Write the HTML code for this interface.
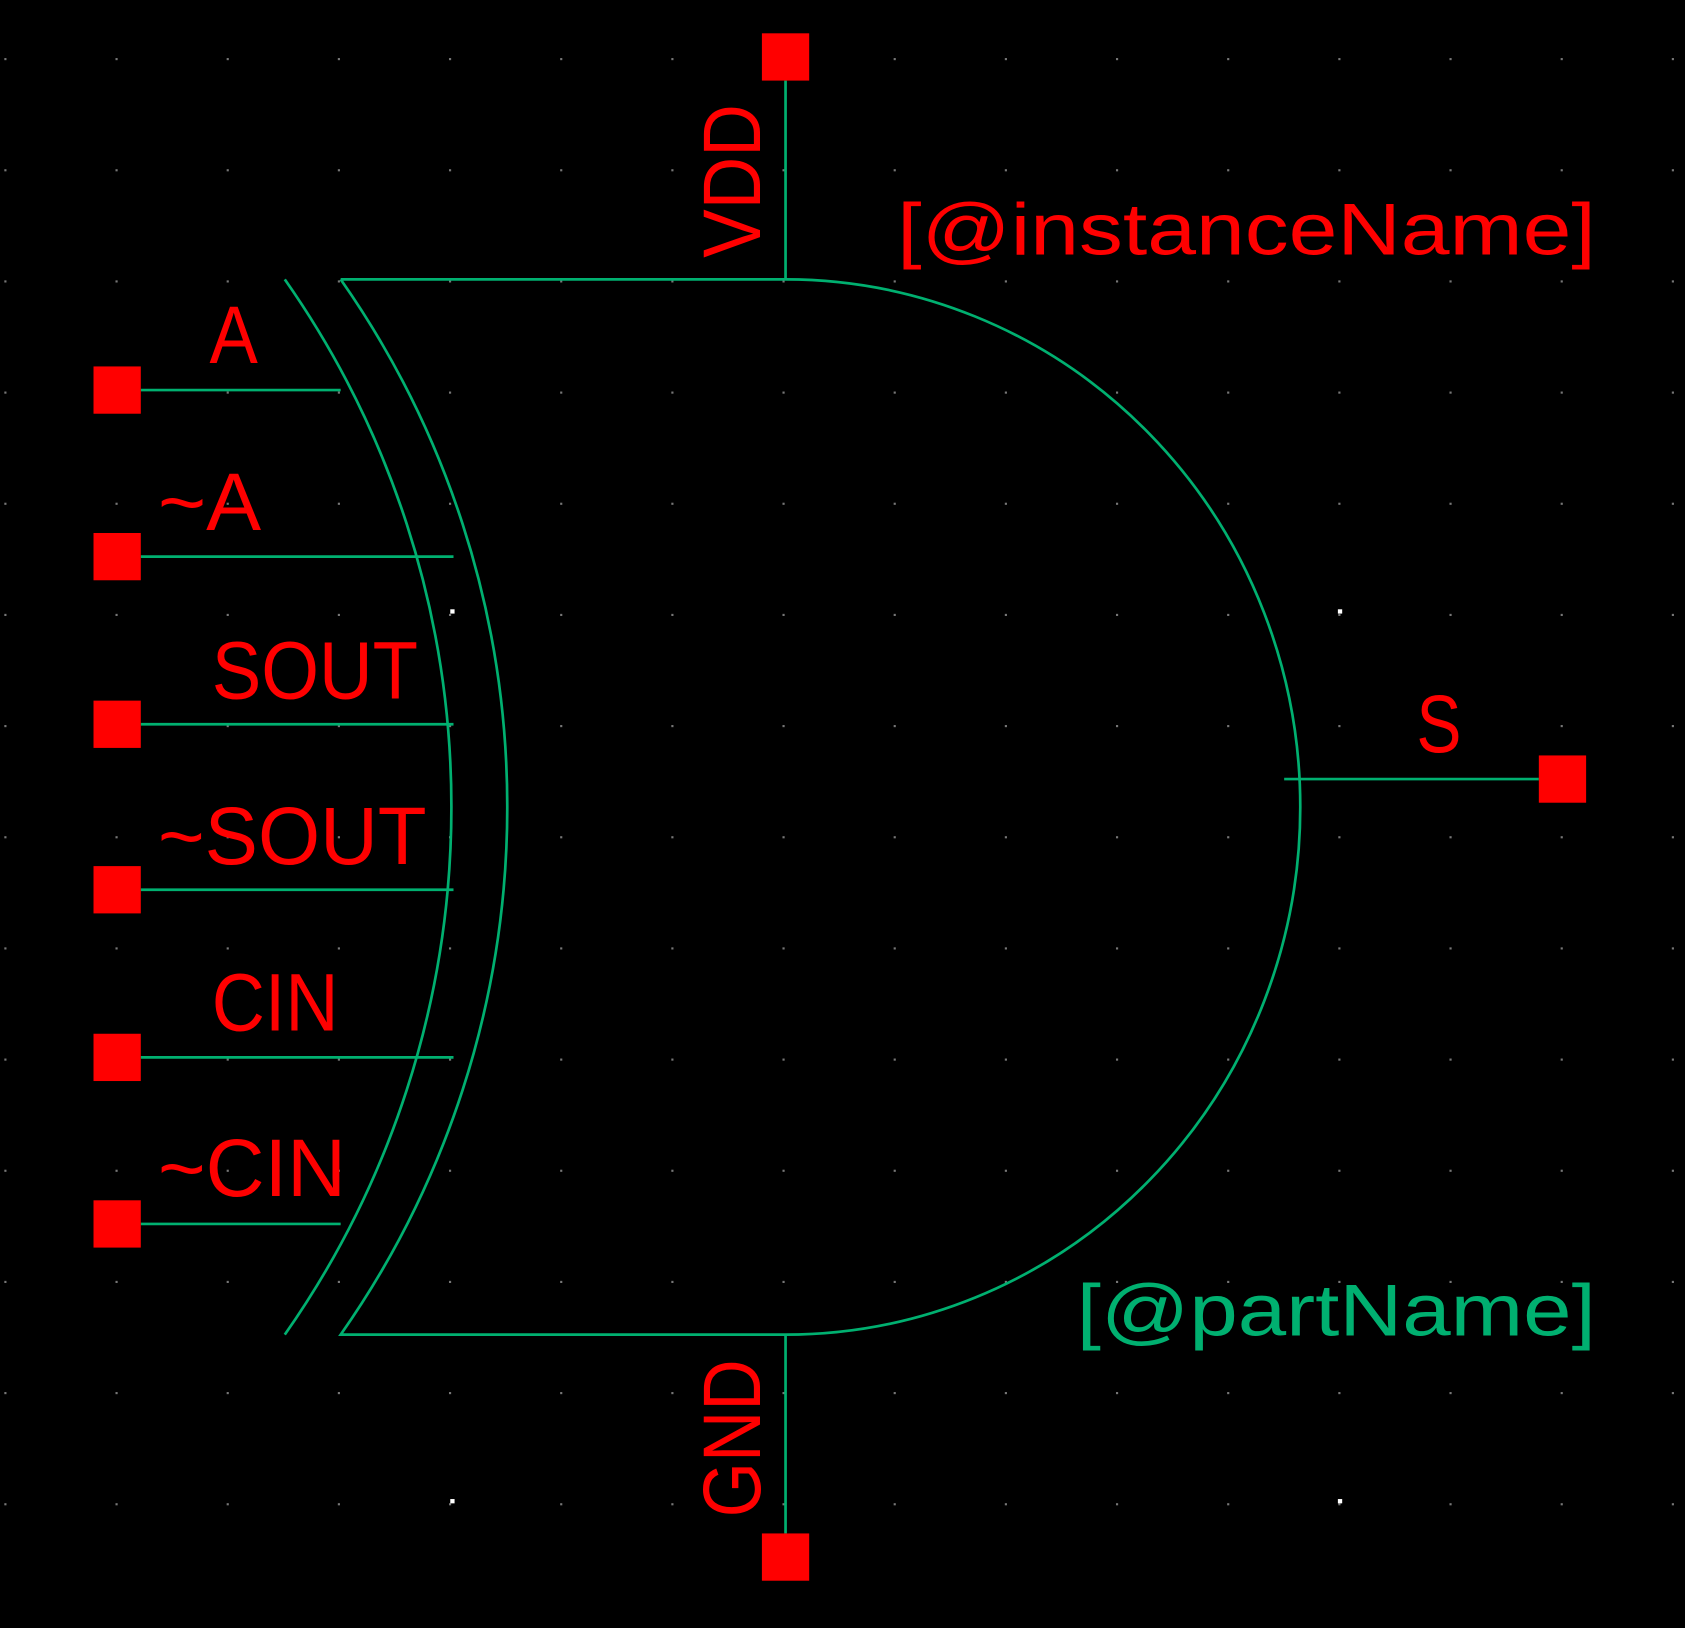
<!DOCTYPE html>
<html><head><meta charset="utf-8"><style>
html,body{margin:0;padding:0;background:#000;}
svg{display:block;}
text{font-family:"Liberation Sans",sans-serif;}
</style></head><body>
<svg width="1685" height="1628" viewBox="0 0 1568 1515" xmlns="http://www.w3.org/2000/svg">
<rect width="1568" height="1515" fill="#000"/>
<g id="grid" fill="#777"></g>
<g fill="none" stroke="#00b070" stroke-width="2.5">
<path d="M317 260 L731 260 A479 491 0 0 1 731 1242 L317 1242 A855 855 0 0 0 317 260"/>
<path d="M265 260 A855 855 0 0 1 265 1242"/>
</g>
<g stroke="#00b070" stroke-width="2.5">
<line x1="131" y1="363" x2="317" y2="363"/>
<line x1="131" y1="518" x2="422" y2="518"/>
<line x1="131" y1="674" x2="422" y2="674"/>
<line x1="131" y1="828" x2="422" y2="828"/>
<line x1="131" y1="984" x2="422" y2="984"/>
<line x1="131" y1="1139" x2="317" y2="1139"/>
<line x1="731" y1="75" x2="731" y2="260"/>
<line x1="731" y1="1242" x2="731" y2="1427"/>
<line x1="1195" y1="725" x2="1432" y2="725"/>
</g>
<g fill="#ff0000">
<rect x="87" y="341" width="44" height="44"/>
<rect x="87" y="496" width="44" height="44"/>
<rect x="87" y="652" width="44" height="44"/>
<rect x="87" y="806" width="44" height="44"/>
<rect x="87" y="962" width="44" height="44"/>
<rect x="87" y="1117" width="44" height="44"/>
<rect x="709" y="31" width="44" height="44"/>
<rect x="709" y="1427" width="44" height="44"/>
<rect x="1432" y="703" width="44" height="44"/>
</g>
<g fill="#ff0000" font-size="76">
<text x="195" y="338" textLength="45" lengthAdjust="spacingAndGlyphs">A</text>
<text x="147" y="493" textLength="96" lengthAdjust="spacingAndGlyphs">~A</text>
<text x="197" y="650" textLength="192" lengthAdjust="spacingAndGlyphs">SOUT</text>
<text x="147" y="804" textLength="250" lengthAdjust="spacingAndGlyphs">~SOUT</text>
<text x="197" y="959" textLength="118" lengthAdjust="spacingAndGlyphs">CIN</text>
<text x="147" y="1113" textLength="175" lengthAdjust="spacingAndGlyphs">~CIN</text>
<text x="1318" y="700" textLength="42" lengthAdjust="spacingAndGlyphs">S</text>
<text transform="translate(707,240) rotate(-90)" textLength="143" lengthAdjust="spacingAndGlyphs">VDD</text>
<text transform="translate(707,1412) rotate(-90)" textLength="147" lengthAdjust="spacingAndGlyphs">GND</text>
<text x="835" y="237" font-size="68" textLength="650" lengthAdjust="spacingAndGlyphs">[@instanceName]</text>
</g>
<text x="1002" y="1243" fill="#00b070" font-size="68" textLength="483" lengthAdjust="spacingAndGlyphs">[@partName]</text>
</svg>
<script>
const g=document.getElementById('grid');
for(let i=0;i<16;i++){for(let j=0;j<15;j++){
const c=document.createElementNS('http://www.w3.org/2000/svg','rect');


const x=5+i*103.45, y=55+j*103.45-103.45;
if(y<0)continue;
c.setAttribute('x',x-1);c.setAttribute('y',y-1);c.setAttribute('width',2);c.setAttribute('height',2);
g.appendChild(c);}}
[[421,569],[1247,569],[421,1397],[1247,1397]].forEach(p=>{
const c=document.createElementNS('http://www.w3.org/2000/svg','rect');


c.setAttribute('x',p[0]-2);c.setAttribute('y',p[1]-2);c.setAttribute('width',4);c.setAttribute('height',4);c.setAttribute('fill','#fff');
g.appendChild(c);});
</script>
</body></html>
